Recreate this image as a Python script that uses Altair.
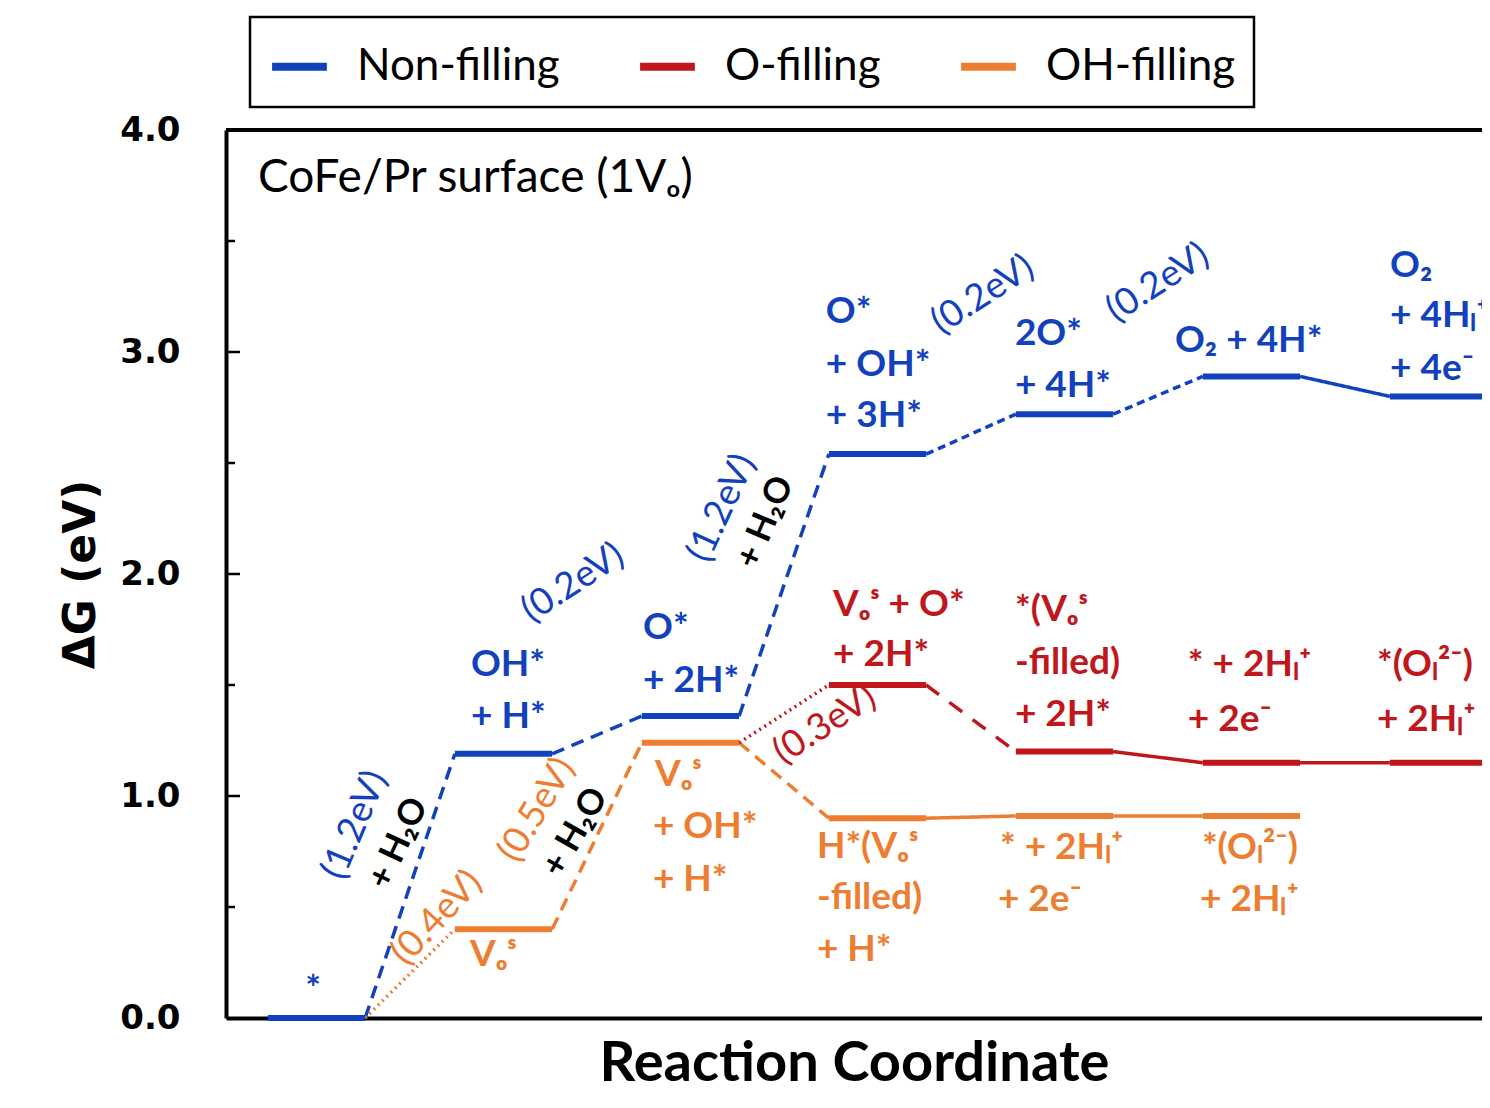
import altair as alt
import pandas as pd

# ---------------- data ----------------
SERIES = ["Non-filling", "O-filling", "OH-filling"]
COLORS = ["#1241BE", "#C0171D", "#ED7D31"]
CMAP = dict(zip(SERIES, COLORS))

# free-energy levels: reaction step index and dG (eV)
blue_steps = [0, 1, 2, 3, 4, 5, 6]
blue_dG = [0.00, 1.19, 1.36, 2.54, 2.72, 2.89, 2.80]
red_steps = [3, 4, 5, 6]
red_dG = [1.50, 1.20, 1.15, 1.15]
orange_steps = [1, 2, 3, 4, 5]
orange_dG = [0.40, 1.24, 0.90, 0.91, 0.91]

# connector styles between consecutive levels
blue_links = ["dash", "dash", "dash", "dashS", "dashS", "solid"]
orange_links = ["dot", "dash", "dash", "solid", "solid"]   # starts at "*" level
red_links = ["dot", "dashL", "solid", "solid"]             # starts at orange step 2

# state labels (text, step coordinate, dG coordinate)
blue_labels = [
    ("*", -0.060, 0.125),
    ("OH*", 0.826, 1.590), ("+ H*", 0.826, 1.356),
    ("O*", 1.746, 1.757), ("+ 2H*", 1.746, 1.518),
    ("O*", 2.724, 3.180), ("+ OH*", 2.724, 2.941), ("+ 3H*", 2.724, 2.712),
    ("2O*", 3.735, 3.081), ("+ 4H*", 3.735, 2.847),
    ("O₂ + 4H*", 4.591, 3.050),
    ("O₂", 5.741, 3.387), ("+ 4Hₗ⁺", 5.741, 3.162), ("+ 4e⁻", 5.741, 2.923),
]
red_labels = [
    ("Vₒˢ + O*", 2.762, 1.860), ("+ 2H*", 2.762, 1.635),
    ("*(Vₒˢ", 3.735, 1.838), ("-filled)", 3.735, 1.599), ("+ 2H*", 3.735, 1.365),
    ("* + 2Hₗ⁺", 4.660, 1.590), ("+ 2e⁻", 4.660, 1.342),
    ("*(Oₗ²⁻)", 5.671, 1.590), ("+ 2Hₗ⁺", 5.671, 1.342),
]
orange_labels = [
    ("Vₒˢ", 0.821, 0.284),
    ("Vₒˢ", 1.810, 1.095), ("+ OH*", 1.799, 0.860), ("+ H*", 1.799, 0.622),
    ("H*(Vₒˢ", 2.676, 0.770), ("-filled)", 2.676, 0.541), ("+ H*", 2.676, 0.306),
    ("* + 2Hₗ⁺", 3.655, 0.766), ("+ 2e⁻", 3.644, 0.532),
    ("*(Oₗ²⁻)", 4.735, 0.766), ("+ 2Hₗ⁺", 4.725, 0.532),
]
# barrier labels (series, text, x, y, angle)
barrier_labels = [
    ("Non-filling", "(1.2eV)", 0.206, 0.869, 293),
    ("Non-filling", "(0.2eV)", 1.372, 1.959, 327),
    ("Non-filling", "(1.2eV)", 2.168, 2.297, 295),
    ("Non-filling", "(0.2eV)", 3.564, 3.257, 327),
    ("Non-filling", "(0.2eV)", 4.500, 3.311, 327),
    ("OH-filling", "(0.4eV)", 0.644, 0.450, 313),
    ("OH-filling", "(0.5eV)", 1.179, 0.937, 301),
    ("O-filling", "(0.3eV)", 2.719, 1.320, 327),
]
water_labels = [
    ("+ H₂O", 0.436, 0.788, 295),
    ("+ H₂O", 2.398, 2.234, 293),
    ("+ H₂O", 1.382, 0.838, 300),
]
panel_title = ("CoFe/Pr surface (1Vₒ)", -0.313, 3.784)

y_ticks = [0, 1, 2, 3, 4]
minor_ticks = [0.5, 1.5, 2.5, 3.5]
major_ticks = [1.0, 2.0, 3.0]

# ---------------- build tables ----------------
H = 0.26
lv_rows = []
for name, steps, dG in [("Non-filling", blue_steps, blue_dG),
                        ("O-filling", red_steps, red_dG),
                        ("OH-filling", orange_steps, orange_dG)]:
    for s, g in zip(steps, dG):
        lv_rows.append({"series": name, "x": s - H, "x2": s + H, "y": g})
levels = pd.DataFrame(lv_rows)

lk_rows = []
def add_links(name, pts, styles):
    for (s0, g0), (s1, g1), st in zip(pts[:-1], pts[1:], styles):
        lk_rows.append({"x": s0 + H, "x2": s1 - H, "y": g0, "y2": g1,
                        "style": st, "color": CMAP[name]})

add_links("Non-filling", list(zip(blue_steps, blue_dG)), blue_links)
add_links("OH-filling", [(blue_steps[0], blue_dG[0])] + list(zip(orange_steps, orange_dG)), orange_links)
add_links("O-filling", [(orange_steps[1], orange_dG[1])] + list(zip(red_steps, red_dG)), red_links)
links = pd.DataFrame(lk_rows)

st_rows = []
for name, labs in [("Non-filling", blue_labels), ("O-filling", red_labels), ("OH-filling", orange_labels)]:
    for t, x, y in labs:
        st_rows.append({"text": t, "x": x, "y": y, "color": CMAP[name]})
state_df = pd.DataFrame(st_rows)

bar_df = pd.DataFrame([{"text": t, "x": x, "y": y, "angle": a, "color": CMAP[s]}
                       for s, t, x, y, a in barrier_labels])
water_df = pd.DataFrame([{"text": t, "x": x, "y": y, "angle": a} for t, x, y, a in water_labels])
title_df = pd.DataFrame([{"text": panel_title[0], "x": panel_title[1], "y": panel_title[2]}])

# ---------------- chart ----------------
W, HGT = 1256, 888
LAB = "Lato"
NUM = "DejaVu Sans"

xscale = alt.Scale(domain=[-0.484, 6.233], nice=False, zero=False)
yscale = alt.Scale(domain=[0, 4], nice=False, zero=False)
xaxis = alt.Axis(title="Reaction Coordinate", labels=False, ticks=False, grid=False,
                 domainColor="black", domainWidth=4, titleFont=LAB, titleFontSize=56,
                 titleFontWeight="bold", titleColor="black", titlePadding=18)
yaxis = alt.Axis(title="ΔG (eV)", values=y_ticks, format=".1f", ticks=False, grid=False,
                 domainColor="black", domainWidth=4, labelFont=NUM, labelFontSize=34,
                 labelFontWeight="bold", labelColor="black", labelPadding=46,
                 titleFont=NUM, titleFontSize=44, titleFontWeight="bold",
                 titleColor="black", titlePadding=16)

def X(f="x"):
    return alt.X(f"{f}:Q", scale=xscale, axis=xaxis)

def Y(f="y"):
    return alt.Y(f"{f}:Q", scale=yscale, axis=yaxis)

frame_top = alt.Chart(pd.DataFrame({"y": [4.0]})).mark_rule(color="black", strokeWidth=4).encode(
    y=Y(), x=alt.value(0), x2=alt.value(W))

tick_major = alt.Chart(pd.DataFrame({"y": major_ticks})).mark_rule(color="black", strokeWidth=2.5).encode(
    y=Y(), x=alt.value(2), x2=alt.value(14))
tick_minor = alt.Chart(pd.DataFrame({"y": minor_ticks})).mark_rule(color="black", strokeWidth=2.5).encode(
    y=Y(), x=alt.value(2), x2=alt.value(9))

link_layer = alt.Chart(links).mark_rule().encode(
    x=X(), x2="x2:Q", y=Y(), y2="y2:Q",
    color=alt.Color("color:N", scale=None),
    strokeDash=alt.StrokeDash("style:N", legend=None,
                              scale=alt.Scale(domain=["dash", "dashS", "dashL", "dot", "solid"],
                                              range=[[13, 8], [8, 5], [16, 13], [2, 4], [1, 0]])),
    strokeWidth=alt.StrokeWidth("style:N", legend=None,
                                scale=alt.Scale(domain=["dash", "dashS", "dashL", "dot", "solid"],
                                                range=[3.5, 3.5, 3.5, 3, 2])),
)

level_layer = alt.Chart(levels).mark_rule(strokeWidth=6).encode(
    x=X(), x2="x2:Q", y=Y(),
    color=alt.Color("series:N", scale=alt.Scale(domain=SERIES, range=COLORS),
                    legend=alt.Legend(title=None, orient="none", legendX=24, legendY=-113,
                                      direction="horizontal", symbolType="stroke",
                                      symbolSize=3000, symbolStrokeWidth=8,
                                      labelFont=LAB, labelFontSize=44, labelColor="black",
                                      labelLimit=500, labelOffset=26, columnPadding=64,
                                      padding=18, strokeColor="black", fillColor="white",
                                      cornerRadius=0)),
)

state_layer = alt.Chart(state_df).mark_text(align="left", baseline="middle", font=LAB,
                                            fontSize=37, fontWeight="bold").encode(
    x=X(), y=Y(), text="text:N", color=alt.Color("color:N", scale=None))

bar_layer = alt.Chart(bar_df).mark_text(align="center", baseline="middle", font=LAB,
                                        fontSize=37, fontWeight="normal").encode(
    x=X(), y=Y(), text="text:N", color=alt.Color("color:N", scale=None),
    angle=alt.Angle("angle:Q", scale=None))

water_layer = alt.Chart(water_df).mark_text(align="center", baseline="middle", font=LAB,
                                            fontSize=35, fontWeight="bold", color="black").encode(
    x=X(), y=Y(), text="text:N", angle=alt.Angle("angle:Q", scale=None))

title_layer = alt.Chart(title_df).mark_text(align="left", baseline="middle", font=LAB,
                                            fontSize=46, color="black").encode(
    x=X(), y=Y(), text="text:N")

chart = alt.layer(
    frame_top, tick_major, tick_minor, link_layer, level_layer,
    state_layer, bar_layer, water_layer, title_layer
).resolve_scale(color="independent").properties(
    width=W, height=HGT,
    padding={"left": 218, "top": 122, "right": 0, "bottom": 80},
    autosize=alt.AutoSizeParams(type="none"),
).configure_view(stroke=None).configure_legend(strokeWidth=2.5)

chart.save("out.html", embed_options={"renderer": "svg", "actions": False})
